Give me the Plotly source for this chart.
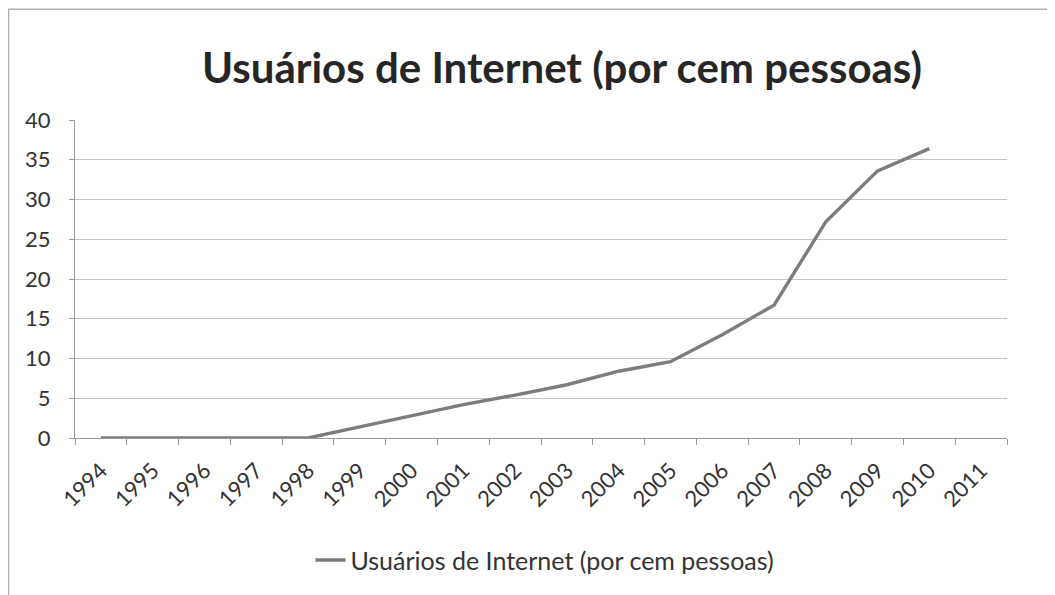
import plotly.graph_objects as go

years = [str(y) for y in range(1994, 2012)]
usuarios = [0, 0, 0, 0, 0, 1.4, 2.8, 4.2, 5.4, 6.7, 8.4, 9.6, 13.0, 16.7, 27.2, 33.6, 36.4, None]
serie_nome = "Usuários de Internet (por cem pessoas)"
titulo = "Usuários de Internet (por cem pessoas)"

# page body has an 8px margin, so work in figure pixels = screen pixels - 8
OFF = 8
W, H = 1055 - OFF, 595 - OFF
L, R, T, B = 75 - OFF, 1007 - OFF, 120 - OFF, 440 - OFF
pw, ph = R - L, B - T


def px_to_paper(x, y):
    # x, y given in screen pixels of the reference
    return (x - OFF - L) / pw, (B - (y - OFF)) / ph


fig = go.Figure()
fig.add_trace(
    go.Scatter(
        x=years,
        y=usuarios,
        mode="lines",
        line=dict(color="#7d7d7d", width=3.4),
        name=serie_nome,
        connectgaps=False,
    )
)

bx0, by0 = px_to_paper(OFF + 0.5, 700)
bx1, by1 = px_to_paper(1052, OFF + 0.5)

fig.update_layout(
    width=W,
    height=H,
    margin=dict(l=L, r=W - R, t=T, b=H - B, pad=0),
    paper_bgcolor="white",
    plot_bgcolor="white",
    font=dict(family="Lato, 'Open Sans', sans-serif", color="#333333"),
    title=dict(
        text=titulo,
        x=(562 - OFF) / W,
        xanchor="center",
        y=1 - (68 - OFF) / H,
        yanchor="middle",
        font=dict(size=42, color="#262626", family="Lato", weight="bold"),
    ),
    showlegend=True,
    legend=dict(
        orientation="h",
        x=px_to_paper(545, 0)[0],
        xanchor="center",
        y=px_to_paper(0, 563)[1],
        yanchor="middle",
        font=dict(size=25, color="#333333"),
    ),
    xaxis=dict(
        type="category",
        tickson="boundaries",
        ticks="outside",
        ticklen=6,
        tickcolor="#9a9a9a",
        showline=True,
        linecolor="#9a9a9a",
        linewidth=1,
        showgrid=False,
        tickangle=-45,
        ticklabelstandoff=10,
        tickfont=dict(size=22, color="#333333"),
        range=[-0.5, 17.5],
    ),
    yaxis=dict(
        range=[0, 40],
        tick0=0,
        dtick=5,
        showgrid=True,
        gridcolor="#c4c4c4",
        gridwidth=1,
        zeroline=False,
        showline=True,
        linecolor="#9a9a9a",
        ticks="outside",
        ticklen=5,
        tickcolor="#9a9a9a",
        ticklabelstandoff=14,
        tickfont=dict(size=22, color="#333333"),
    ),
    shapes=[
        dict(
            type="rect",
            xref="paper",
            yref="paper",
            x0=bx0,
            y0=by0,
            x1=bx1,
            y1=by1,
            line=dict(color="#b0b0b0", width=1.5),
            layer="below",
        )
    ],
)

fig.write_html("out.html")
